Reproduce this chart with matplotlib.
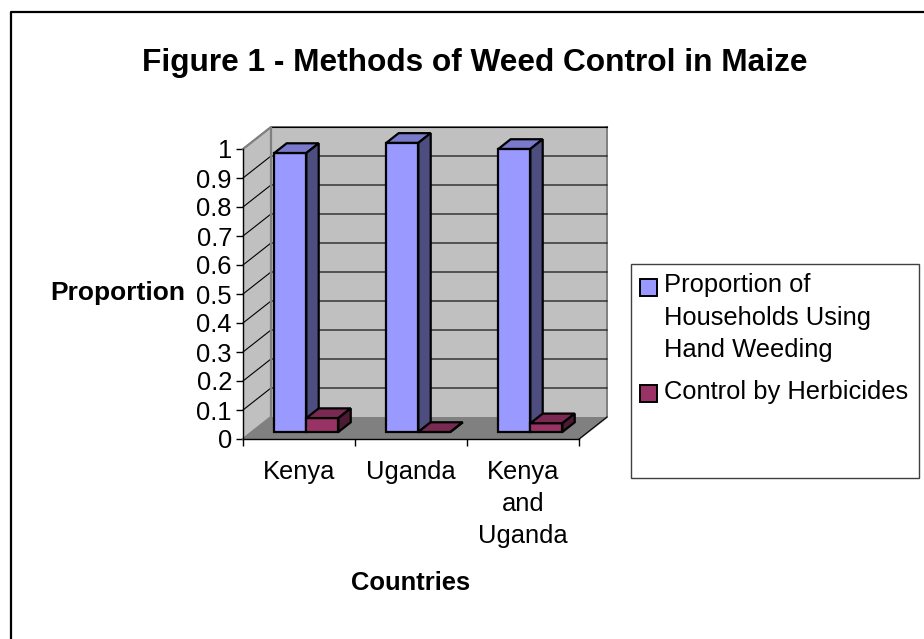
#!/bin/python3

import matplotlib
matplotlib.use("Agg")
import matplotlib.pyplot as plt
from matplotlib.patches import Polygon, Rectangle
import numpy as np

plt.rcParams["font.family"] = ["Liberation Sans", "DejaVu Sans"]

W, H = 924, 639

COUNTRIES = ["Kenya", "Uganda", "Kenya\nand\nUganda"]
HAND_WEEDING = [0.962, 0.997, 0.976]
HERBICIDES = [0.048, 0.0, 0.03]
Y_TICKS = [0, 0.1, 0.2, 0.3, 0.4, 0.5, 0.6, 0.7, 0.8, 0.9, 1]
Y_TICK_LABELS = ["0", "0.1", "0.2", "0.3", "0.4", "0.5", "0.6", "0.7", "0.8", "0.9", "1"]
SERIES_NAMES = ["Proportion of\nHouseholds Using\nHand Weeding", "Control by Herbicides"]

# Oblique depth of the box, in axis units
DEPTH_X = 28 / 112
DEPTH_Y = 22 / 290
BAR_WIDTH = 0.286
BAR_MARGIN = 0.2
BAR_D0, BAR_D1 = 0.32, 0.76

BLUE = ("#9999FF", "#7A7ACC", "#4D4D80")
RED = ("#993366", "#7A2952", "#4D1A33")


def pr(x, y, d):
    # front plane position plus depth offset
    return (x + d * DEPTH_X, y + d * DEPTH_Y)


def face(ax, pts, color, edge="black", lw=1.6, z=2):
    ax.add_patch(Polygon(pts, closed=True, facecolor=color, edgecolor=edge,
                         linewidth=lw, clip_on=False, zorder=z, joinstyle="miter"))


def bar3d(ax, x0, val, colors, z):
    x1 = x0 + BAR_WIDTH
    face(ax, [pr(x0, 0, BAR_D0), pr(x1, 0, BAR_D0), pr(x1, val, BAR_D0), pr(x0, val, BAR_D0)], colors[0], z=z)
    face(ax, [pr(x0, val, BAR_D0), pr(x1, val, BAR_D0), pr(x1, val, BAR_D1), pr(x0, val, BAR_D1)], colors[1], z=z)
    face(ax, [pr(x1, 0, BAR_D0), pr(x1, 0, BAR_D1), pr(x1, val, BAR_D1), pr(x1, val, BAR_D0)], colors[2], z=z)


fig = plt.figure(figsize=(W / 100, H / 100), dpi=100)
ax = fig.add_axes([243 / W, 1 - 439 / H, 336 / W, 290 / H])
ax.set_xlim(0, 3)
ax.set_ylim(0, 1)
ax.patch.set_visible(False)

# walls and floor
face(ax, [pr(0, 0, 1), pr(3, 0, 1), pr(3, 1, 1), pr(0, 1, 1)], "#C0C0C0", edge="none", z=1)
face(ax, [pr(0, 0, 0), pr(0, 0, 1), pr(0, 1, 1), pr(0, 1, 0)], "#C0C0C0", edge="none", z=1)
face(ax, [pr(0, 0, 0), pr(3, 0, 0), pr(3, 0, 1), pr(0, 0, 1)], "#808080", edge="none", z=1)
for t in Y_TICKS[1:]:
    xs, ys = zip(pr(0, t, 0), pr(0, t, 1), pr(3, t, 1))
    ax.plot(xs, ys, color="black", lw=0.8, clip_on=False, zorder=1.5)
ax.plot(*zip(pr(0, 0, 0), pr(0, 0, 1), pr(0, 1, 1), pr(0, 1, 0)), color="#808080", lw=1.6, clip_on=False, zorder=1.6)
ax.plot(*zip(pr(3, 1, 1), pr(3, 0, 1), pr(3, 0, 0)), color="#808080", lw=1.4, clip_on=False, zorder=1.4)
ax.plot(*zip(pr(0, 1, 1), pr(3, 1, 1)), color="black", lw=0.8, clip_on=False, zorder=1.5)
ax.plot(*zip(pr(3, 0, 1), pr(3, 0, 0)), color="black", lw=0.8, clip_on=False, zorder=1.5)

# bars, back to front along x
for i, (a, b) in enumerate(zip(HAND_WEEDING, HERBICIDES)):
    bar3d(ax, i + BAR_MARGIN, a, BLUE, 3 + i * 2)
    bar3d(ax, i + BAR_MARGIN + BAR_WIDTH, b, RED, 4 + i * 2)

# axes and tick labels
for s in ["top", "right"]:
    ax.spines[s].set_visible(False)
for s in ["left", "bottom"]:
    ax.spines[s].set_linewidth(1.0)
    ax.spines[s].set_zorder(2.5)
ax.set_yticks(Y_TICKS)
ax.set_yticklabels(Y_TICK_LABELS, fontsize=18.4)
ax.set_xticks(np.arange(4))
ax.set_xticklabels([])
ax.set_xticks(np.arange(3) + 0.5, minor=True)
ax.set_xticklabels(COUNTRIES, minor=True, fontsize=18.4, linespacing=1.43)
ax.tick_params(axis="both", which="major", length=5, width=1.0, pad=3)
ax.tick_params(axis="x", which="minor", length=0, pad=15)

ax.set_ylabel("Proportion", rotation=0, fontsize=19, fontweight="bold", ha="center", va="center")
ax.yaxis.set_label_coords((118 - 243) / 336, (439 - 293) / 290)
ax.set_xlabel("Countries", fontsize=18.4, fontweight="bold", ha="center", va="center")
ax.xaxis.set_label_coords((411 - 243) / 336, (439 - 583) / 290)

fig.text(475 / W, 1 - 63 / H, "Figure 1 - Methods of Weed Control in Maize",
         fontsize=22.8, fontweight="bold", ha="center", va="center")

# outer frame runs off the right and bottom edges
fig.add_artist(plt.Line2D([11 / W, 11 / W, 1], [0, 1 - 12 / H, 1 - 12 / H], color="black", lw=1.6))

# legend box, swatches and labels
fig.add_artist(Rectangle((630.5 / W, 1 - 478 / H), 288 / W, 214.5 / H, transform=fig.transFigure,
                         facecolor="white", edgecolor="#404040", lw=1.0))
line_y = 292
for name, color, swatch_top in zip(SERIES_NAMES, [BLUE[0], RED[0]], [279, 385]):
    fig.add_artist(Rectangle((640 / W, 1 - (swatch_top + 17) / H), 17 / W, 17 / H, transform=fig.transFigure,
                             facecolor=color, edgecolor="black", lw=1.4))
    for line in name.split("\n"):
        fig.text(663.5 / W, 1 - line_y / H, line, fontsize=18.4, va="baseline", ha="left")
        line_y += 32.5
    line_y += 9

fig.savefig("out.png", dpi=100)
